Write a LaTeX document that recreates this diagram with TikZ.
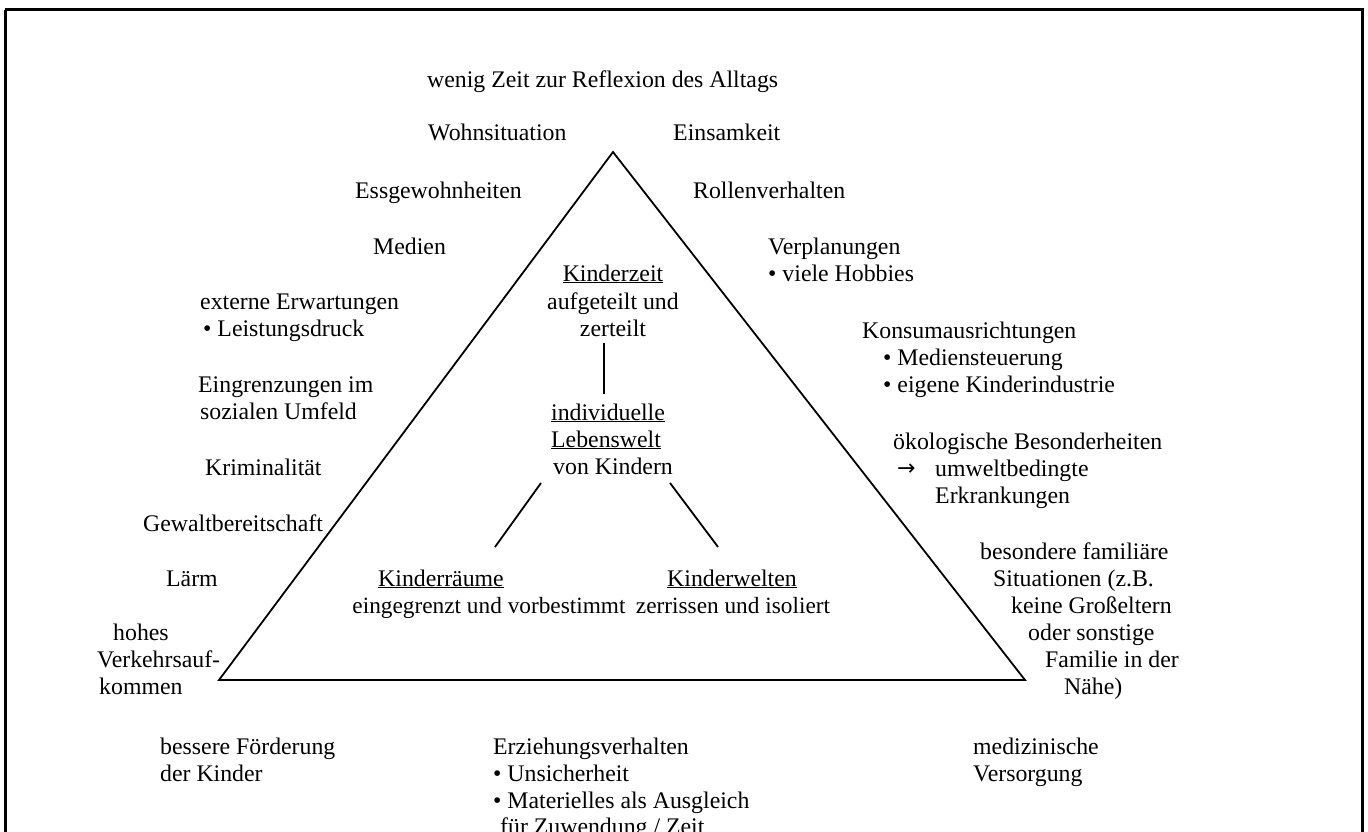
\documentclass[tikz,border=0pt]{standalone}
\usepackage{fontspec}
\setmainfont{Liberation Serif}
\newfontfamily\symfont{DejaVu Sans}
\begin{document}
\begin{tikzpicture}[x=1pt,y=-1pt,
  lbl/.style={anchor=base west,inner sep=0pt,font=\fontsize{23.8}{27}\selectfont},
  clbl/.style={anchor=base,inner sep=0pt,font=\fontsize{23.8}{27}\selectfont},
  edge/.style={draw,line width=1.8pt},
  frame/.style={draw,line width=3pt}]
\useasboundingbox (0,0) rectangle (1368,832);
\draw[frame] (5,10) -- (1362,10) -- (1362,840) (5,840) -- (5,10);
% triangle
\coordinate (apex) at (613,152);
\coordinate (bl) at (219,680);
\coordinate (br) at (1025,680);
\draw[edge,line join=miter] (apex) -- (br) -- (bl) -- cycle;
% top
\node[lbl] (t1) at (427,88) {wenig Zeit zur Reflexion des Alltags};
\node[lbl] (l1) at (428,141) {Wohnsituation};
\node[lbl] (r1) at (673,141) {Einsamkeit};
\node[lbl] (l2) at (355,198) {Essgewohnheiten};
\node[lbl] (r2) at (693,198) {Rollenverhalten};
\node[lbl] (l3) at (373,254) {Medien};
\node[lbl] (r3a) at (768,254) {Verplanungen};
\node[lbl] (r3b) at (768,281) {• viele Hobbies};
\node[lbl] (l4a) at (200,309) {externe Erwartungen};
\node[lbl] (l4b) at (203,336) {• Leistungsdruck};
\node[lbl] (r4a) at (862,338) {Konsumausrichtungen};
\node[lbl] (r4b) at (883,365) {• Mediensteuerung};
\node[lbl] (r4c) at (883,392) {• eigene Kinderindustrie};
\node[lbl] (l5a) at (198,392) {Eingrenzungen im};
\node[lbl] (l5b) at (200,419) {sozialen Umfeld};
\node[lbl] (r5a) at (893,449) {ökologische Besonderheiten};
\node[lbl] (r5arr) at (897,475) {\symfont\fontsize{22}{24}\selectfont →};
\node[lbl] (r5b) at (935,476) {umweltbedingte};
\node[lbl] (r5c) at (935,503) {Erkrankungen};
\node[lbl] (l6) at (205,475) {Kriminalität};
\node[lbl] (l7) at (143,531) {Gewaltbereitschaft};
\node[lbl] (l8) at (166,586) {Lärm};
\node[lbl] (l9a) at (113,640) {hohes};
\node[lbl] (l9b) at (97,667) {Verkehrsauf-};
\node[lbl] (l9c) at (99,694) {kommen};
\node[lbl] (r6a) at (980,559) {besondere familiäre};
\node[lbl] (r6b) at (993,586) {Situationen (z.B.};
\node[lbl] (r6c) at (1011,613) {keine Großeltern};
\node[lbl] (r6d) at (1028,640) {oder sonstige};
\node[lbl] (r6e) at (1045,667) {Familie in der};
\node[lbl] (r6f) at (1064,694) {Nähe)};
% center
\node[clbl] (kz1) at (613,281) {\underline{Kinderzeit}};
\node[clbl] (kz2) at (613,309) {aufgeteilt und};
\node[clbl] (kz3) at (613,336) {zerteilt};
\node[lbl] (lw1) at (551,420) {\underline{individuelle}};
\node[lbl] (lw2) at (551,447) {\underline{Lebenswelt}};
\node[lbl] (lw3) at (553,474) {von Kindern};
\node[clbl] (kr1) at (441,586) {\underline{Kinderräume}};
\node[clbl,font=\fontsize{23.3}{27}\selectfont] (kr2) at (489,613) {eingegrenzt und vorbestimmt};
\node[clbl] (kw1) at (732,586) {\underline{Kinderwelten}};
\node[clbl,font=\fontsize{23.3}{27}\selectfont] (kw2) at (733,613) {zerrissen und isoliert};
\coordinate (v1) at (604,343);
\coordinate (v2) at (604,394);
\coordinate (a1) at (541,483);
\coordinate (a2) at (495,547);
\coordinate (b1) at (670,483);
\coordinate (b2) at (718,547);
\draw[edge] (v1) -- (v2);
\draw[edge] (a1) -- (a2);
\draw[edge] (b1) -- (b2);
% bottom
\node[lbl] (bf1) at (160,754) {bessere Förderung};
\node[lbl] (bf2) at (160,781) {der Kinder};
\node[lbl] (ez1) at (493,754) {Erziehungsverhalten};
\node[lbl] (ez2) at (493,781) {• Unsicherheit};
\node[lbl] (ez3) at (493,808) {• Materielles als Ausgleich};
\node[lbl] (ez4) at (500,834) {für Zuwendung / Zeit};
\node[lbl] (mv1) at (973,754) {medizinische};
\node[lbl] (mv2) at (973,781) {Versorgung};
\end{tikzpicture}
\end{document}
